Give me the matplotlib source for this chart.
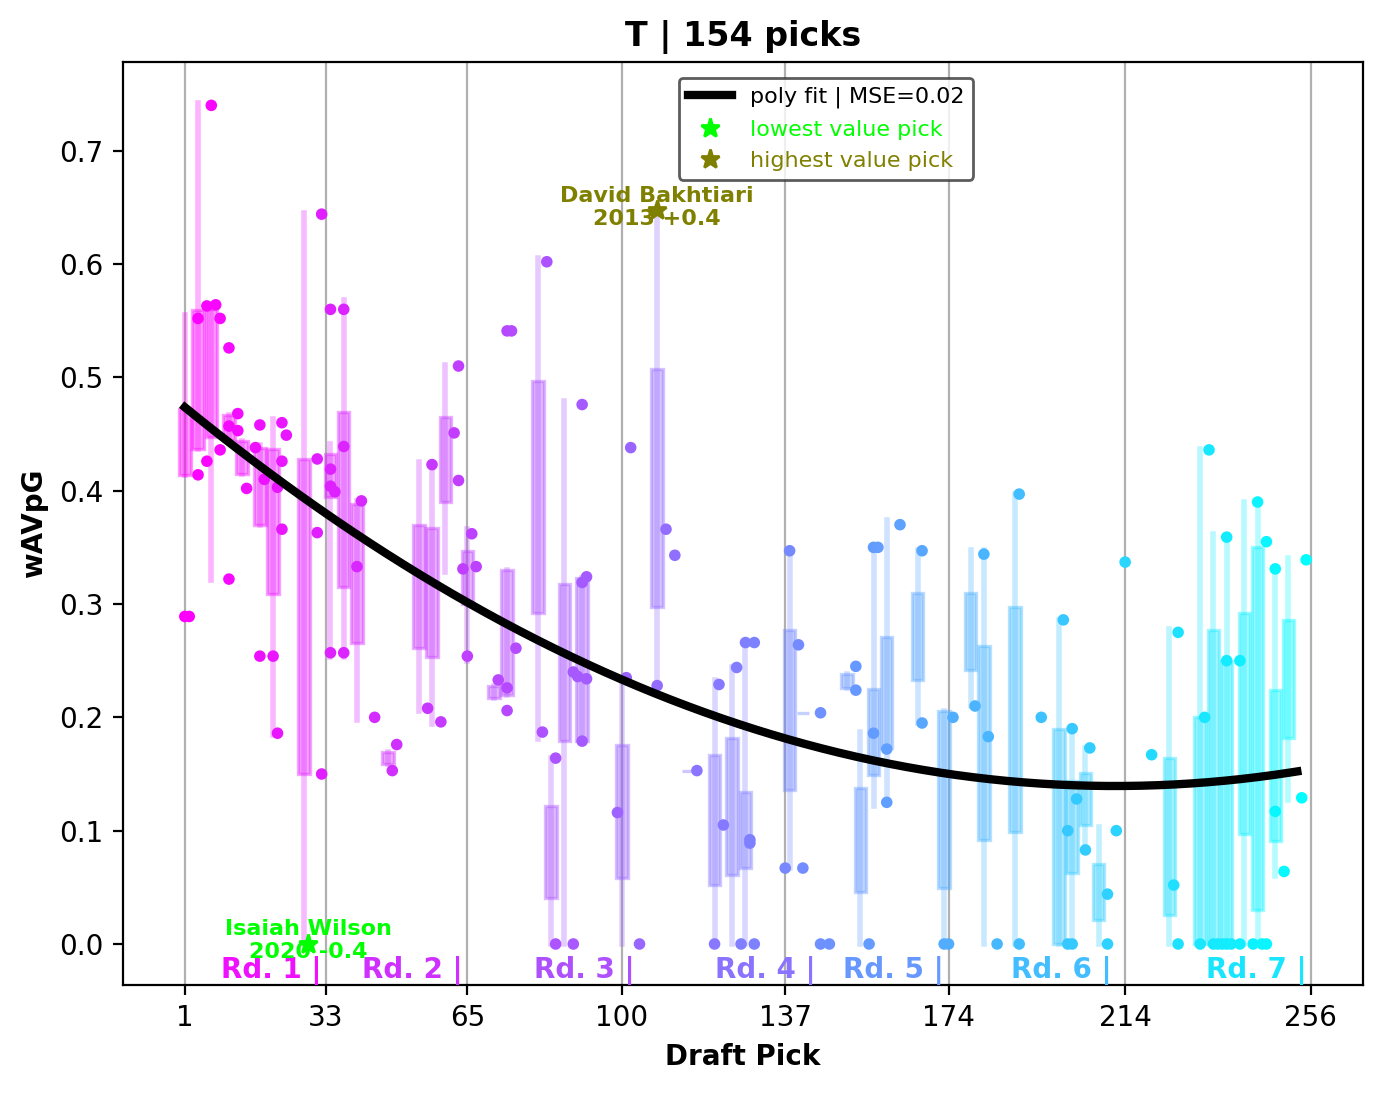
import numpy as np
import matplotlib.pyplot as plt

# scatter points: (pick, wAVpG)
pts = [
    (1,0.289),(2,0.289),(4,0.414),(4,0.552),(6,0.563),(8,0.564),(7,0.740),(9,0.552),(11,0.526),
    (11,0.322),(6,0.426),(9,0.436),(11,0.457),(13,0.468),(13,0.453),(15,0.402),(17,0.438),
    (18,0.458),(18,0.254),(19,0.410),(21,0.254),(22,0.186),(22,0.403),(23,0.460),(23,0.426),
    (23,0.366),(24,0.449),(31,0.428),(31,0.363),(32,0.644),(32,0.150),(34,0.560),(34,0.257),
    (34,0.419),(34,0.404),(35,0.399),(37,0.560),(37,0.439),(37,0.257),(40,0.333),(41,0.391),
    (44,0.200),(48,0.153),(49,0.176),
    (56,0.208),(57,0.423),(59,0.196),(62,0.451),(63,0.510),(63,0.409),(65,0.254),(64,0.331),
    (66,0.362),(67,0.333),(72,0.233),(74,0.226),(74,0.206),(74,0.541),(75,0.541),(76,0.261),
    (82,0.187),(83,0.602),(85,0.164),(85,0.0),(89,0.0),(89,0.240),(90,0.236),(91,0.319),
    (92,0.324),(91,0.476),(91,0.179),(92,0.234),(99,0.116),(101,0.235),(102,0.438),(104,0.0),
    (108,0.228),(110,0.366),(112,0.343),(117,0.153),(121,0.0),(122,0.229),(123,0.105),
    (126,0.244),(127,0.0),(128,0.266),(129,0.092),(129,0.089),(130,0.266),(130,0.0),
    (137,0.067),(138,0.347),(140,0.264),(141,0.067),(145,0.204),(145,0.0),(147,0.0),
    (153,0.245),(153,0.224),(156,0.0),(157,0.186),(157,0.350),(158,0.350),(160,0.172),
    (160,0.125),(163,0.370),(168,0.347),(168,0.195),(173,0.0),(174,0.0),(175,0.200),
    (180,0.210),(182,0.344),(183,0.183),(185,0.0),(190,0.397),(190,0.0),(195,0.200),
    (200,0.286),(201,0.100),(201,0.0),(202,0.190),(203,0.128),(202,0.0),(205,0.083),
    (206,0.173),(210,0.044),(210,0.0),(212,0.100),(214,0.337),
    (220,0.167),(225,0.052),(226,0.275),(226,0.0),(231,0.0),(232,0.200),(233,0.436),
    (234,0.0),(235,0.0),(236,0.0),(237,0.0),(238,0.0),(240,0.0),(243,0.0),(245,0.0),(246,0.0),
    (237,0.359),(237,0.250),(240,0.250),(244,0.390),(246,0.355),(248,0.331),(248,0.117),
    (250,0.064),(254,0.129),(255,0.339),
]

# boxes: pick, q1, q3, whisker low, whisker high
boxes = [
    (1,0.414,0.472,0.414,0.555),(4,0.437,0.559,0.437,0.742),(7,0.447,0.560,0.321,0.560),
    (11,0.445,0.467,0.445,0.467),(14,0.415,0.444,0.415,0.444),(18,0.370,0.438,0.370,0.440),
    (21,0.309,0.437,0.184,0.463),(28,0.150,0.428,0.0,0.645),(34,0.394,0.432,0.253,0.441),
    (37,0.315,0.469,0.253,0.568),(40,0.266,0.388,0.198,0.391),(47,0.159,0.169,0.159,0.169),
    (54,0.261,0.370,0.206,0.425),(57,0.253,0.367,0.194,0.423),(60,0.390,0.465,0.328,0.511),
    (65,0.300,0.347,0.250,0.366),(71,0.217,0.228,0.217,0.228),(74,0.220,0.330,0.220,0.330),
    (81,0.292,0.497,0.181,0.605),(84,0.041,0.122,0.0,0.164),(87,0.179,0.318,0.0,0.479),
    (91,0.179,0.323,0.179,0.323),(100,0.058,0.176,0.0,0.233),(108,0.297,0.507,0.227,0.650),
    (115,0.153,0.153,0.153,0.153),(121,0.052,0.167,0.0,0.233),(125,0.061,0.182,0.0,0.244),
    (128,0.067,0.134,0.0,0.266),(138,0.136,0.277,0.067,0.348),(141,0.204,0.204,0.204,0.204),
    (151,0.226,0.238,0.226,0.238),(154,0.046,0.138,0.0,0.187),(157,0.149,0.225,0.122,0.350),
    (160,0.173,0.271,0.125,0.374),(167,0.233,0.310,0.195,0.348),(173,0.049,0.206,0.0,0.206),
    (179,0.242,0.310,0.210,0.348),(182,0.092,0.263,0.0,0.348),(189,0.099,0.297,0.0,0.397),
    (199,0.0,0.190,0.0,0.286),(202,0.063,0.144,0.0,0.190),(205,0.105,0.151,0.083,0.173),
    (208,0.021,0.071,0.0,0.103),(224,0.026,0.164,0.0,0.278),(231,0.0,0.200,0.0,0.437),
    (234,0.0,0.277,0.0,0.362),(237,0.0,0.250,0.0,0.360),(241,0.097,0.292,0.0,0.390),
    (244,0.030,0.350,0.0,0.390),(248,0.091,0.224,0.060,0.325),(251,0.182,0.286,0.127,0.341),
]

round_starts = [1, 33, 65, 100, 137, 174, 214, 256]
round_label_x = [32, 64, 103, 144, 173, 211, 255]

def col(p):
    return plt.cm.cool(1 - (p - 1) / 255)

fig, ax = plt.subplots(figsize=(6.91, 5.465), dpi=200)
fig.subplots_adjust(left=0.089, right=0.986, top=0.943, bottom=0.099)

for x in round_starts:
    ax.axvline(x, color='#b0b0b0', lw=0.8, zorder=0)

for p, q1, q3, lo, hi in boxes:
    c = col(p)
    ax.plot([p, p], [lo, hi], color=c, alpha=0.3, lw=2, zorder=1)
    ax.bar(p, q3 - q1, bottom=q1, width=2.6, color=c, alpha=0.4,
           edgecolor=c, linewidth=1.2, zorder=2)

px = np.array([a for a, b in pts])
py = np.array([b for a, b in pts])
ax.scatter(px, py, c=[col(p) for p in px], s=10, zorder=3)

coef = np.polyfit(px, py, 2)
xs = np.linspace(1, 253, 200)
ax.plot(xs, np.polyval(coef, xs), color='black', lw=3, zorder=4,
        label='poly fit | MSE=0.02')

ax.plot(29, 0.0, '*', color='lime', ms=7, zorder=5, label='lowest value pick')
ax.plot(108, 0.648, '*', color='olive', ms=7, zorder=5, label='highest value pick')
ax.text(29, 0.003, 'Isaiah Wilson\n2020 -0.4', color='lime', fontsize=8,
        fontweight='bold', ha='center', va='center', zorder=6)
ax.text(108, 0.650, 'David Bakhtiari\n2013 +0.4', color='olive', fontsize=8,
        fontweight='bold', ha='center', va='center', zorder=6)

for i, x in enumerate(round_label_x):
    ax.text(x, -0.023, f'Rd. {i+1} |', color=col(round_starts[i] + 16),
            fontsize=10, fontweight='bold', ha='right', va='center')

ax.set_xlim(-13, 267.8)
ax.set_ylim(-0.036, 0.778)
ax.set_xticks(round_starts)
ax.set_title('T | 154 picks', fontweight='bold')
ax.set_xlabel('Draft Pick', fontweight='bold')
ax.set_ylabel('wAVpG', fontweight='bold')
leg = ax.legend(loc='upper center', bbox_to_anchor=(0.567, 0.995), fontsize=8,
                edgecolor='#333333')
leg.get_texts()[1].set_color('lime')
leg.get_texts()[2].set_color('olive')

fig.savefig('out.png')
